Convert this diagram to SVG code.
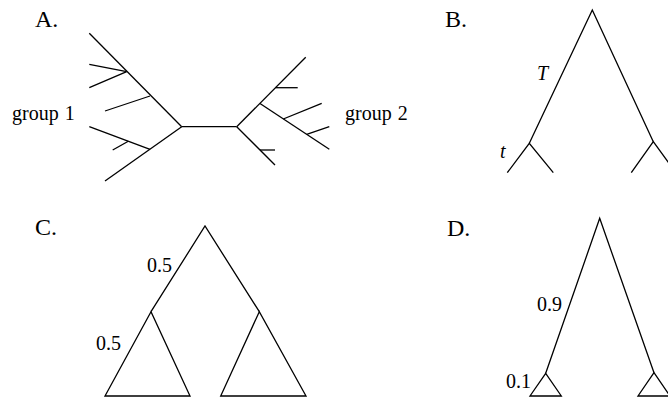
<svg xmlns="http://www.w3.org/2000/svg" width="668" height="400" viewBox="0 0 668 400">
<style>
.e{stroke:#000;stroke-width:1.3;fill:none;stroke-linecap:butt;stroke-linejoin:miter}
.lab{font-family:"Liberation Serif","Times New Roman",serif;font-size:24px;fill:#000}
.t{font-family:"Liberation Serif","Times New Roman",serif;font-size:20px;fill:#000}
.i{font-style:italic}
</style>
<rect width="668" height="400" fill="#fff"/>
<g id="panelA">
<text class="lab" x="35" y="27">A.</text>
<text class="t" x="12" y="120" word-spacing="1">group 1</text>
<text class="t" x="345" y="120" word-spacing="1">group 2</text>
<g id="connectorsA" class="e">
<path d="M181.7,126.7 H236.7"/>
<path d="M181.7,126.7 L89.3,33.3"/>
<path d="M126.7,71.7 L89.3,64.3 M126.7,71.7 L89.3,87.7"/>
<path d="M150,96 L105,111"/>
<path d="M181.7,126.7 L105,181"/>
<path d="M150,149.3 L89.3,126.7"/>
<path d="M128.3,141.2 L112.7,150"/>
<path d="M236.7,126.7 L305.7,57.3"/>
<path d="M275.7,87.7 H297.7"/>
<path d="M260,103.5 L329.3,149.3"/>
<path d="M283.3,119 L321.7,103.3"/>
<path d="M306.7,134.3 L329.3,126.7"/>
<path d="M236.7,126.7 L275,165"/>
<path d="M260,150 H275"/>
</g>
</g>
<g id="panelB">
<text class="lab" x="445" y="27">B.</text>
<text class="t i" x="537" y="80">T</text>
<text class="t i" x="500" y="158">t</text>
<g id="connectorsB" class="e">
<path d="M529.3,143.3 L592.3,10 L653.3,141.7"/>
<path d="M507.3,172.7 L529.3,143.3 L553.3,172.7"/>
<path d="M631.3,172.7 L653.3,141.7 L676,172.7"/>
</g>
</g>
<g id="panelC">
<text class="lab" x="35" y="235">C.</text>
<text class="t" x="147" y="272">0.5</text>
<text class="t" x="96" y="350">0.5</text>
<g id="connectorsC" class="e">
<path d="M151,311.7 L205,226 L259.3,311.7"/>
<path d="M151,311.7 L105,396 H190 Z"/>
<path d="M259.3,311.7 L220.7,396 H306 Z"/>
</g>
</g>
<g id="panelD">
<text class="lab" x="447" y="236">D.</text>
<text class="t" x="537" y="311">0.9</text>
<text class="t" x="506" y="388">0.1</text>
<g id="connectorsD" class="e">
<path d="M545.7,373.3 L599.7,218.3 L654,372.7"/>
<path d="M545.7,373.3 L530,396 H561.3 Z"/>
<path d="M654,372.7 L638,396 H670 Z"/>
</g>
</g>
</svg>
